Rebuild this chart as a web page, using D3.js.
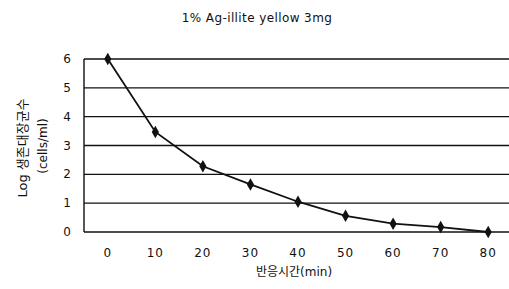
<!DOCTYPE html>
<html>
<head>
<meta charset="utf-8">
<script src="https://cdn.jsdelivr.net/npm/d3@7"></script>
<style>
  body { margin: 0; background: #fff; }
  text { font-family: "DejaVu Sans", "Noto Sans CJK KR", sans-serif; fill: #111; }
</style>
</head>
<body>
<svg width="509" height="289"></svg>
<script>
const times = [0, 10, 20, 30, 40, 50, 60, 70, 80];
const logCells = [6, 3.47, 2.28, 1.65, 1.05, 0.56, 0.29, 0.17, 0];
const xTicks = [0, 10, 20, 30, 40, 50, 60, 70, 80];
const yTicks = [0, 1, 2, 3, 4, 5, 6];

const width = 509;
const height = 289;

const svg = d3.select("svg");

const x = d3.scaleLinear().domain([-5, 85]).range([84, 512]);
const y = d3.scaleLinear().domain([0, 6]).range([232, 59]);

// gridlines
svg.append("g")
    .selectAll("line")
    .data(yTicks)
    .enter().append("line")
    .attr("x1", x(-5))
    .attr("x2", width)
    .attr("y1", d => y(d))
    .attr("y2", d => y(d))
    .attr("stroke", "#111")
    .attr("stroke-width", 1.4);

// left border
svg.append("line")
    .attr("x1", x(-5)).attr("x2", x(-5))
    .attr("y1", y(6)).attr("y2", y(0))
    .attr("stroke", "#111").attr("stroke-width", 1.4);

// y tick labels
svg.append("g")
    .selectAll("text")
    .data(yTicks)
    .enter().append("text")
    .attr("x", 67)
    .attr("y", d => y(d) + 4)
    .attr("text-anchor", "middle")
    .attr("font-size", 12)
    .text(d => d);

// x tick labels
svg.append("g")
    .selectAll("text")
    .data(xTicks)
    .enter().append("text")
    .attr("x", d => x(d))
    .attr("y", 257)
    .attr("text-anchor", "middle")
    .attr("font-size", 12)
    .attr("letter-spacing", 1)
    .text(d => d);

// line
const line = d3.line()
    .x((d, i) => x(times[i]))
    .y(d => y(d));

svg.append("path")
    .datum(logCells)
    .attr("d", line)
    .attr("fill", "none")
    .attr("stroke", "#111")
    .attr("stroke-width", 1.8);

svg.append("g")
    .selectAll("path")
    .data(logCells)
    .enter().append("path")
    .attr("transform", (d, i) => `translate(${x(times[i])},${y(d)})`)
    .attr("d", d3.symbol(d3.symbolDiamond, 45))
    .attr("fill", "#111");

// titles
svg.append("text")
    .attr("x", 257)
    .attr("y", 22)
    .attr("text-anchor", "middle")
    .attr("font-size", 12)
    .attr("letter-spacing", 0.4)
    .text("1% Ag-illite yellow 3mg");

svg.append("text")
    .attr("x", 294)
    .attr("y", 276)
    .attr("text-anchor", "middle")
    .attr("font-size", 12)
    .text("반응시간(min)");

svg.append("text")
    .attr("transform", "translate(27,148) rotate(-90)")
    .attr("text-anchor", "middle")
    .attr("font-size", 13)
    .text("Log 생존대장균수");

svg.append("text")
    .attr("transform", "translate(47,146) rotate(-90)")
    .attr("text-anchor", "middle")
    .attr("font-size", 12)
    .text("(cells/ml)");
</script>
</body>
</html>
